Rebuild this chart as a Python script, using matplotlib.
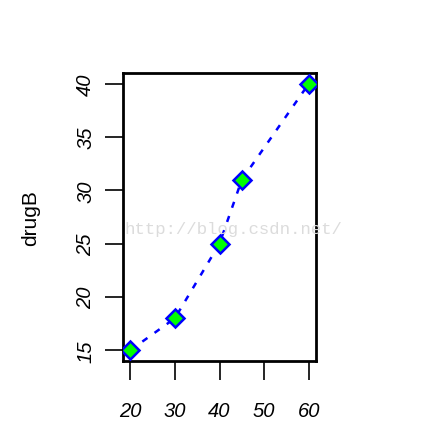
import matplotlib
matplotlib.use("Agg")
import matplotlib.pyplot as plt

dose = [20, 30, 40, 45, 60]
drugB = [15, 18, 25, 31, 40]
xticks = [20, 30, 40, 50, 60]
yticks = [15, 20, 25, 30, 35, 40]

plt.rcParams['font.family'] = ['Liberation Sans', 'DejaVu Sans']

fig = plt.figure(figsize=(4.40, 4.39), dpi=100)
W, H = 440, 439
ax = fig.add_axes([123 / W, 1 - 362 / H, (316 - 123) / W, (362 - 74) / H])

ax.plot(dose, drugB, linestyle=(0, (2.5, 3.5)), color='blue', linewidth=1.8,
        marker='D', markersize=9, markerfacecolor='#00ff00',
        markeredgecolor='blue', markeredgewidth=1.8, zorder=3)

ax.set_xlim(18.4, 61.6)
ax.set_ylim(14.0, 41.0)
ax.set_xticks(xticks)
ax.set_yticks(yticks)
ax.set_xticklabels([str(v) for v in xticks], fontsize=14.5, fontstyle='italic')
ax.set_yticklabels([str(v) for v in yticks], fontsize=14.5, fontstyle='italic',
                   rotation=90, va='center')
ax.tick_params(axis='x', length=14, width=1.2, pad=15)
ax.tick_params(axis='y', length=13, width=1.2, pad=7)
for s in ax.spines.values():
    s.set_linewidth(2)
ax.set_ylabel('drugB', fontsize=15, labelpad=26)

fig.text(124 / W, 1 - 230 / H, 'http://blog.csdn.net/', fontsize=12.5,
         family='Liberation Mono', color='#dcdcdc', ha='left', va='center',
         zorder=10)

fig.savefig('out.png', dpi=100)
